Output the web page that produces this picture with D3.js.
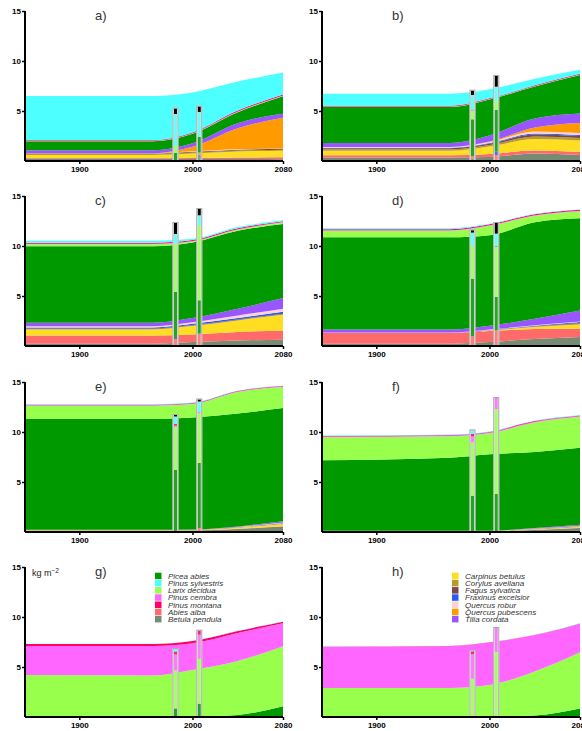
<!DOCTYPE html>
<html>
<head>
<meta charset="utf-8">
<script src="https://cdn.jsdelivr.net/npm/d3@7"></script>
<style>
  body { margin: 0; background: #fff; }
  svg { display: block; }
</style>
</head>
<body>
<script>
// model years and the two measured inventory years
const years = [1852, 1965, 2000, 2040, 2080];
const barYears = [1985, 2006];
const xTicks = [1900, 2000, 2080];
const yTicks = [5, 10, 15];

// stacking order, bottom to top
const codes = ["bp", "aa", "cb", "ca", "fs", "fe", "qr", "qp", "tc", "pa", "ld", "pc", "pm", "ps"];
const names = {
  bp: "Betula pendula", aa: "Abies alba", cb: "Carpinus betulus", ca: "Corylus avellana",
  fs: "Fagus sylvatica", fe: "Fraxinus excelsior", qr: "Quercus robur", qp: "Quercus pubescens",
  tc: "Tilia cordata", pa: "Picea abies", ld: "Larix decidua", pc: "Pinus cembra",
  pm: "Pinus montana", ps: "Pinus sylvestris"
};
const colors = {
  bp: "#778b74", aa: "#ff6b6b", cb: "#ffde22", ca: "#b89c2a", fs: "#7a4848",
  fe: "#2a5cf0", qr: "#ffd2d2", qp: "#ff9a00", tc: "#9955ff", pa: "#009900",
  ld: "#99ff4d", pc: "#ff66ff", pm: "#ff0066", ps: "#4dffff", other: "#000000"
};
const legendG = ["pa", "ps", "ld", "pc", "pm", "aa", "bp"];
const legendH = ["cb", "ca", "fs", "fe", "qr", "qp", "tc"];

// biomass (kg m-2) per species at each model year
const stackA = {
  bp: [0.25, 0.25, 0.2, 0.2, 0.17], aa: [0.05, 0.05, 0.1, 0.15, 0.2],
  cb: [0.3, 0.3, 0.45, 0.6, 0.66], ca: [0.1, 0.1, 0.1, 0.1, 0.1],
  fs: [0.05, 0.05, 0.07, 0.08, 0.07], qr: [0.03, 0.03, 0.05, 0.05, 0.03],
  qp: [0, 0, 0.45, 2.1, 3.1], tc: [0.3, 0.3, 0.35, 0.5, 0.4],
  pa: [0.9, 0.9, 0.95, 1.1, 1.75], ld: [0.03, 0.03, 0.03, 0.03, 0.03],
  pc: [0.03, 0.03, 0.03, 0.03, 0.03], pm: [0.06, 0.06, 0.08, 0.1, 0.1],
  ps: [4.4, 4.4, 4.0, 2.9, 2.2]
};
const stackB = {
  bp: [0.35, 0.35, 0.4, 0.75, 0.6], aa: [0.22, 0.22, 0.3, 0.3, 0.3],
  cb: [0.45, 0.45, 0.75, 1.15, 1.15], ca: [0.15, 0.15, 0.15, 0.25, 0.25],
  fs: [0.1, 0.1, 0.12, 0.2, 0.2], fe: [0.05, 0.05, 0.08, 0.1, 0.1],
  qr: [0.08, 0.08, 0.1, 0.2, 0.2], qp: [0, 0, 0.05, 0.4, 1.0],
  tc: [0.4, 0.4, 0.6, 0.9, 0.95], pa: [3.6, 3.6, 3.6, 3.2, 3.85],
  ld: [0.03, 0.03, 0.03, 0.03, 0.03], pc: [0.03, 0.03, 0.03, 0.03, 0.03],
  pm: [0.06, 0.06, 0.06, 0.06, 0.06], ps: [1.2, 1.2, 0.9, 0.65, 0.4]
};
const stackC = {
  bp: [0.23, 0.23, 0.4, 0.55, 0.63], aa: [0.83, 0.83, 0.76, 0.85, 0.93],
  cb: [0.6, 0.6, 0.84, 1.16, 1.57], ca: [0.05, 0.05, 0.05, 0.05, 0.05],
  fs: [0.05, 0.05, 0.05, 0.05, 0.05], fe: [0.1, 0.1, 0.12, 0.15, 0.2],
  qr: [0.12, 0.12, 0.15, 0.25, 0.3], tc: [0.35, 0.35, 0.43, 0.66, 1.06],
  pa: [7.65, 7.65, 7.55, 7.8, 7.4], ld: [0.2, 0.2, 0.1, 0.1, 0.15],
  pc: [0.05, 0.05, 0.05, 0.05, 0.05], pm: [0.1, 0.1, 0.1, 0.1, 0.08],
  ps: [0.2, 0.2, 0.12, 0.12, 0.1]
};
const stackD = {
  bp: [0.23, 0.23, 0.4, 0.7, 0.9], aa: [1.07, 1.07, 1.1, 1.0, 0.83],
  cb: [0, 0, 0.05, 0.2, 0.43], ca: [0, 0, 0.02, 0.05, 0.1],
  fs: [0, 0, 0.01, 0.03, 0.05], fe: [0.02, 0.02, 0.03, 0.05, 0.08],
  qr: [0.02, 0.02, 0.03, 0.05, 0.07], tc: [0.3, 0.3, 0.38, 0.65, 1.1],
  pa: [9.23, 9.23, 9.05, 9.64, 9.21], ld: [0.65, 0.65, 0.95, 0.65, 0.7],
  pc: [0.05, 0.05, 0.05, 0.05, 0.05], pm: [0.1, 0.1, 0.1, 0.1, 0.1],
  ps: [0.1, 0.1, 0.05, 0.05, 0.03]
};
const stackE = {
  bp: [0.15, 0.15, 0.15, 0.3, 0.55], aa: [0.03, 0.03, 0.03, 0.03, 0.03],
  cb: [0.03, 0.03, 0.03, 0.1, 0.22], ca: [0.02, 0.02, 0.02, 0.03, 0.05],
  fe: [0, 0, 0, 0.02, 0.05], qr: [0, 0, 0, 0.02, 0.05],
  tc: [0, 0, 0.02, 0.05, 0.12], pa: [11.07, 11.07, 11.2, 11.3, 11.33],
  ld: [1.33, 1.33, 1.35, 2.15, 2.1], pc: [0.05, 0.05, 0.05, 0.05, 0.05],
  pm: [0.05, 0.05, 0.05, 0.05, 0.05], ps: [0.05, 0.05, 0.05, 0.03, 0.03]
};
const stackF = {
  bp: [0.05, 0.05, 0.05, 0.2, 0.4], aa: [0.03, 0.03, 0.03, 0.03, 0.03],
  cb: [0.02, 0.02, 0.02, 0.05, 0.08], ca: [0.02, 0.02, 0.02, 0.03, 0.03],
  fe: [0, 0, 0, 0.02, 0.03], qr: [0, 0, 0, 0.02, 0.03],
  qp: [0, 0, 0, 0, 0.02], tc: [0, 0, 0, 0.05, 0.1],
  pa: [7.05, 7.3, 7.65, 7.6, 7.7], ld: [2.3, 2.15, 2.1, 2.95, 3.1],
  pc: [0.08, 0.08, 0.08, 0.08, 0.08], pm: [0.06, 0.06, 0.06, 0.06, 0.06],
  ps: [0.04, 0.04, 0.04, 0.04, 0.04]
};
const stackG = {
  bp: [0, 0, 0, 0, 0.03], pa: [0, 0, 0, 0.2, 1.05],
  ld: [4.2, 4.15, 4.7, 5.4, 6.0], pc: [2.9, 2.95, 2.67, 2.8, 2.3],
  pm: [0.2, 0.2, 0.22, 0.2, 0.15], ps: [0.02, 0.02, 0.02, 0.02, 0.02]
};
const stackH = {
  pa: [0, 0, 0, 0.15, 0.85], ld: [2.9, 2.9, 3.2, 4.4, 5.62],
  pc: [4.1, 4.17, 4.24, 3.62, 2.86], pm: [0.03, 0.03, 0.03, 0.03, 0.03],
  ps: [0.01, 0.01, 0.01, 0.01, 0.01]
};

// measured biomass at the two inventory years (other = black cap)
const barsA = [
  { pa: 0.8, ld: 0.7, ps: 3.2, other: 0.55 },
  { bp: 0.6, qp: 0.25, pa: 1.55, ps: 2.5, other: 0.55 }
];
const barsB = [
  { bp: 0.23, aa: 0.27, pa: 3.67, ld: 0.86, pc: 0.05, pm: 0.05, ps: 1.47, other: 0.43 },
  { aa: 0.6, fe: 0.33, pa: 4.17, ld: 0.93, ps: 1.4, other: 1.07 }
];
const barsC = [
  { aa: 0.7, fe: 0.1, pa: 4.6, ld: 4.8, ps: 1.0, other: 1.1 },
  { aa: 1.24, pa: 3.33, ld: 7.5, ps: 1.0, other: 0.63 }
];
const barsD = [
  { aa: 0.97, pa: 5.76, ld: 3.27, ps: 1.34, other: 0.23 },
  { aa: 1.57, pa: 3.33, ld: 5.0, pm: 0.07, ps: 1.27, other: 1.06 }
];
const barsE = [
  { pa: 6.2, ld: 4.3, pm: 0.15, pc: 0.15, ps: 0.75, other: 0.15 },
  { aa: 0.4, pa: 6.5, ld: 5.0, pc: 0.1, ps: 1.05, other: 0.2 }
];
const barsF = [
  { pa: 3.63, ld: 5.33, pc: 0.6, pm: 0.25, ps: 0.35 },
  { pa: 3.8, ld: 8.5, pc: 1.1 }
];
const barsG = [
  { pa: 0.85, ld: 3.8, pc: 1.6, pm: 0.3, ps: 0.25 },
  { pa: 1.33, ld: 4.5, pc: 2.4, pm: 0.4 }
];
const barsH = [
  { ld: 3.83, pc: 2.47, pm: 0.26 },
  { ld: 6.5, pc: 2.4 }
];

const W = 582, H = 731;
const colX = [25, 322];
const rowBase = [161, 346, 532, 717];
const plotW = 258, plotH = 150;

const panels = [
  { label: "a)", col: 0, row: 0, stack: stackA, bars: barsA },
  { label: "b)", col: 1, row: 0, stack: stackB, bars: barsB },
  { label: "c)", col: 0, row: 1, stack: stackC, bars: barsC },
  { label: "d)", col: 1, row: 1, stack: stackD, bars: barsD },
  { label: "e)", col: 0, row: 2, stack: stackE, bars: barsE },
  { label: "f)", col: 1, row: 2, stack: stackF, bars: barsF },
  { label: "g)", col: 0, row: 3, stack: stackG, bars: barsG, legend: legendG, unit: true },
  { label: "h)", col: 1, row: 3, stack: stackH, bars: barsH, legend: legendH }
];

const svg = d3.select("body").append("svg")
  .attr("width", W)
  .attr("height", H)
  .style("font-family", "Liberation Sans, Arial, sans-serif");

const barKeys = codes.concat(["other"]);

panels.forEach(p => {
  const x0 = colX[p.col];
  const base = rowBase[p.row];
  const x = d3.scaleLinear().domain([1852, 2080]).range([x0, x0 + plotW]);
  const y = d3.scaleLinear().domain([0, 15]).range([base, base - plotH]);
  const g = svg.append("g");

  // stacked areas
  const rows = years.map((yr, i) => {
    const r = { year: yr };
    codes.forEach(c => { r[c] = p.stack[c] ? p.stack[c][i] : 0; });
    return r;
  });
  const series = d3.stack().keys(codes)(rows);
  const area = d3.area()
    .x(d => x(d.data.year))
    .y0(d => y(d[0]))
    .y1(d => y(d[1]))
    .curve(d3.curveMonotoneX);
  g.selectAll("path.layer")
    .data(series.filter(s => s.some(d => d[1] - d[0] > 0)))
    .join("path")
    .attr("class", "layer")
    .attr("d", area)
    .attr("fill", s => colors[s.key]);

  // measured bars
  const barRows = p.bars.map((b, i) => {
    const r = { year: barYears[i] };
    barKeys.forEach(k => { r[k] = b[k] || 0; });
    return r;
  });
  const barSeries = d3.stack().keys(barKeys)(barRows);
  const bw = 5;
  barRows.forEach((r, i) => {
    const cx = x(r.year);
    const total = d3.sum(barKeys, k => r[k]);
    g.append("rect")
      .attr("x", cx - bw / 2 - 0.5)
      .attr("y", y(total) - 1)
      .attr("width", bw + 1)
      .attr("height", y(0) - y(total) + 1)
      .attr("fill", "#f2f2f2");
    barSeries.forEach(s => {
      const d = s[i];
      if (d[1] - d[0] <= 0) return;
      g.append("rect")
        .attr("x", cx - bw / 2 + 1)
        .attr("y", y(d[1]))
        .attr("width", bw - 2)
        .attr("height", y(d[0]) - y(d[1]))
        .attr("fill", colors[s.key])
        .attr("fill-opacity", s.key === "other" ? 1 : 0.85);
    });
    g.append("rect")
      .attr("x", cx - bw / 2)
      .attr("y", y(total) - 0.5)
      .attr("width", bw)
      .attr("height", y(0) - y(total) + 0.5)
      .attr("fill", "none")
      .attr("stroke", "#a8a8a8")
      .attr("stroke-width", 1);
  });

  // axes
  const yAxis = g.append("g")
    .attr("transform", `translate(${x0},0)`)
    .call(d3.axisLeft(y).tickValues(yTicks).tickSize(3).tickPadding(1));
  yAxis.select(".domain").attr("d", `M0,${y(0)}V${y(15)}`).attr("stroke-width", 2);
  const xAxis = g.append("g")
    .attr("transform", `translate(0,${base})`)
    .call(d3.axisBottom(x).tickValues(xTicks).tickFormat(d3.format("d")).tickSize(3).tickPadding(2));
  xAxis.select(".domain").attr("d", `M${x0},0H${x0 + plotW}`).attr("stroke-width", 2);
  [yAxis, xAxis].forEach(a => {
    a.selectAll("text")
      .attr("font-size", 8)
      .attr("font-weight", "bold")
      .attr("font-family", "Liberation Sans, Arial, sans-serif")
      .attr("fill", "#000");
    a.selectAll(".tick line").attr("stroke-width", 1.5);
  });

  // panel label
  g.append("text")
    .attr("x", x0 + 70)
    .attr("y", y(15) + 9)
    .attr("font-size", 13)
    .attr("fill", "#333")
    .text(p.label);

  if (p.unit) {
    const t = g.append("text")
      .attr("x", x0 + 7)
      .attr("y", y(15) + 8.5)
      .attr("font-size", 9)
      .attr("fill", "#222");
    t.append("tspan").text("kg m");
    t.append("tspan").attr("dy", -3).attr("font-size", 6.5).text("\u22122");
  }

  if (p.legend) {
    const lg = g.append("g")
      .attr("transform", `translate(${x0 + 130},${y(15) + 9})`);
    p.legend.forEach((c, i) => {
      lg.append("rect")
        .attr("x", 0)
        .attr("y", i * 7.2 - 3.3)
        .attr("width", 6.5)
        .attr("height", 6.5)
        .attr("fill", colors[c]);
      lg.append("text")
        .attr("x", 13)
        .attr("y", i * 7.2 + 2.8)
        .attr("font-size", 8)
        .attr("font-style", "italic")
        .attr("fill", "#333")
        .text(names[c]);
    });
  }
});
</script>
</body>
</html>
